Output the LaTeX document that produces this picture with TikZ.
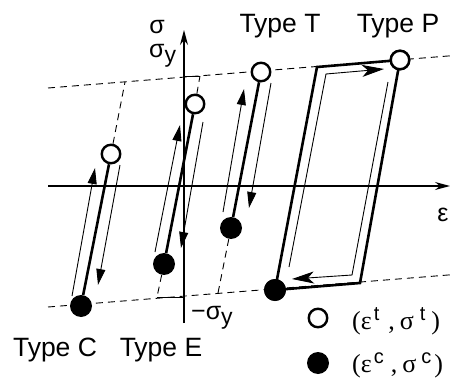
\documentclass[tikz,border=0pt]{standalone}
\usepackage{fontspec}
\setmainfont{Liberation Sans}
\newfontfamily\lserif{Liberation Serif}
\usetikzlibrary{arrows.meta}
\newcommand{\legsup}[1]{\raisebox{9pt}{\normalfont\fontsize{20}{21}\selectfont #1}}
\begin{document}
\begin{tikzpicture}[x=1pt,y=-1pt,
  axis/.style={line width=1.1pt,-{Stealth[length=15pt,width=8pt]}},
  bound/.style={line width=0.9pt,dash pattern=on 7pt off 5pt},
  heavy/.style={line width=2.6pt,line join=miter},
  arr/.style={line width=0.9pt,-{Triangle[length=16pt,width=9pt]}},
  parr/.style={line width=0.9pt,line join=miter,-{Stealth[length=22pt,width=12pt,inset=6pt]}},
  tick/.style={line width=1pt},
  opencirc/.style={circle,draw,line width=2.4pt,fill=white,minimum size=18.5pt,inner sep=0pt},
  fullcirc/.style={circle,fill=black,minimum size=22pt,inner sep=0pt},
  typelab/.style={font=\fontsize{26.5}{30}\selectfont,anchor=base},
  glab/.style={inner sep=0pt,font=\fontsize{25}{28}\selectfont},
  legtext/.style={anchor=west,inner sep=0pt,font=\lserif\fontsize{26}{29}\selectfont}
]
\useasboundingbox (0,0) rectangle (453,380);

% yield bounds
\coordinate (U0) at (48,88);  \coordinate (U1) at (453,55.6);
\coordinate (L0) at (48,307); \coordinate (L1) at (453,274.6);
\draw[bound] (U0) -- (U1);
\draw[bound] (L0) -- (L1);

% axes
\coordinate (X0) at (48,186); \coordinate (X1) at (450,186);
\coordinate (Y0) at (184,323); \coordinate (Y1) at (184,30);
\draw[axis] (X0) -- (X1);
\draw[axis] (Y0) -- (Y1);

% sigma_y ticks
\coordinate (SyA) at (184,76);  \coordinate (SyB) at (200,76);
\coordinate (SnA) at (157,297); \coordinate (SnB) at (184,297);
\draw[tick] (SyA) -- (SyB);
\draw[tick] (SnA) -- (SnB);

% labels on axes
\node[glab] (sig) at (157,27) {σ};
\node[glab,anchor=west] (sigy) at (149,56) {σ\raisebox{-5pt}{\fontsize{23}{24}\selectfont y}};
\node[glab] (eps) at (443,215) {ε};
\node[glab,anchor=west] (msigy) at (191,318) {−σ\raisebox{-5pt}{\fontsize{23}{24}\selectfont y}};

% circles
\node[fullcirc] (C1) at (81,306) {};
\node[opencirc] (C2) at (111,154) {};
\node[fullcirc] (E1) at (164,264) {};
\node[opencirc] (E2) at (195,104) {};
\node[fullcirc] (T1) at (231,228) {};
\node[opencirc] (T2) at (261,72) {};
\node[fullcirc] (P1) at (275,290) {};
\node[opencirc] (P2) at (400,60) {};

% Type C
\coordinate (C3) at (125,82);
\draw[bound] (C2) -- (C3);
\draw[heavy] (C1) -- (C2);
\coordinate (Cu0) at (72,296); \coordinate (Cu1) at (95,168);
\coordinate (Cd0) at (120,165); \coordinate (Cd1) at (98,285);
\draw[arr] (Cu0) -- (Cu1);
\draw[arr] (Cd0) -- (Cd1);

% Type E
\draw[bound] (E2) -- (SyB);
\draw[bound] (E1) -- (SnA);
\draw[heavy] (E1) -- (E2);
\coordinate (Eu0) at (155,252); \coordinate (Eu1) at (180,125);
\coordinate (Ed0) at (203,122); \coordinate (Ed1) at (181,248);
\draw[arr] (Eu0) -- (Eu1);
\draw[arr] (Ed0) -- (Ed1);

% Type T
\coordinate (T3) at (218,293);
\draw[bound] (T1) -- (T3);
\draw[heavy] (T1) -- (T2);
\coordinate (Tu0) at (223,212); \coordinate (Tu1) at (244,89);
\coordinate (Td0) at (271,83); \coordinate (Td1) at (249,208);
\draw[arr] (Tu0) -- (Tu1);
\draw[arr] (Td0) -- (Td1);

% Type P
\coordinate (PA) at (317,67); \coordinate (PB) at (360,283);
\draw[heavy] (P1.center) -- (PA) -- (P2.center) -- (PB) -- cycle;
\coordinate (Pa0) at (289,267); \coordinate (Pa1) at (326,74); \coordinate (Pa2) at (384,69);
\coordinate (Pb0) at (388,82); \coordinate (Pb1) at (352,275); \coordinate (Pb2) at (292,279);
\draw[parr] (Pa0) -- (Pa1) -- (Pa2);
\draw[parr] (Pb0) -- (Pb1) -- (Pb2);
\node[fullcirc] at (P1) {};
\node[opencirc] at (P2) {};

% type labels
\node[typelab] (tC) at (55,356) {Type C};
\node[typelab] (tE) at (161,356) {Type E};
\node[typelab] (tT) at (280,32) {Type T};
\node[typelab] (tP) at (398,32) {Type P};

% legend
\node[opencirc] (LO) at (318,318) {};
\node[fullcirc] (LF) at (318,363) {};
\node[legtext] (LOt) at (352,321)
  {(ε\hspace{2pt}\legsup{t}\hspace{9pt},\hspace{5pt}σ\hspace{6pt}\legsup{t}\hspace{6pt})};
\node[legtext] (LFt) at (352,365)
  {(ε\hspace{2pt}\legsup{c}\hspace{7pt},\hspace{5pt}σ\hspace{5pt}\legsup{c}\hspace{3pt})};
\end{tikzpicture}
\end{document}
